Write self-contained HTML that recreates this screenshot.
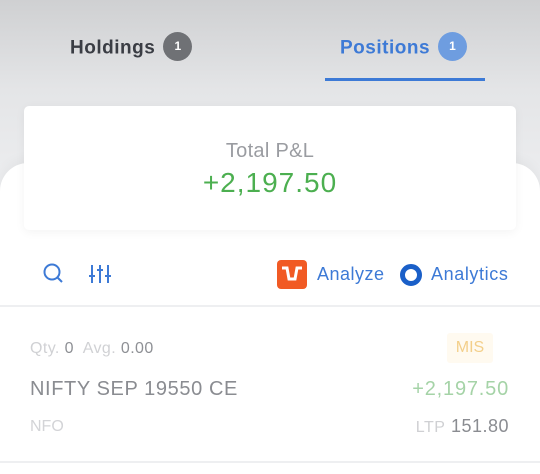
<!DOCTYPE html>
<html><head><meta charset="utf-8"><style>
*{margin:0;padding:0;box-sizing:border-box}
body{width:540px;height:474px;overflow:hidden;font-family:"Liberation Sans",sans-serif;background:linear-gradient(#cfd0d2 0px,#e4e5e7 90px,#ebecee 170px,#f0f0f2 474px);position:relative}
.abs{position:absolute}
.tab{font-size:19px;font-weight:bold;top:34px;letter-spacing:0.5px}
.badge{display:inline-block;width:29px;height:29px;border-radius:50%;color:#fff;font-size:12px;text-align:center;line-height:29px;font-weight:bold;vertical-align:middle;margin-left:8px;position:relative;top:-2px;letter-spacing:0}
</style></head><body>
<div class="abs tab" style="left:70px;color:#3a3d44">Holdings<span class="badge" style="background:#6f7175">1</span></div>
<div class="abs tab" style="left:340px;color:#3d7ad6">Positions<span class="badge" style="background:#6e9de0">1</span></div>
<div class="abs" style="left:325px;top:78px;width:160px;height:3px;background:#3d7ad6"></div>
<div class="abs" style="left:0;top:163px;width:540px;height:311px;background:#fff;border-radius:28px 28px 0 0;box-shadow:0 -4px 12px rgba(0,0,0,0.04)"></div>
<div class="abs" style="left:24px;top:106px;width:492px;height:124px;background:#fff;border-radius:5px;box-shadow:0 2px 10px rgba(0,0,0,0.05);text-align:center">
<div style="margin-top:34px;font-size:20px;color:#9a9ca1;letter-spacing:0.3px">Total P&amp;L</div>
<div style="margin-top:4px;font-size:28px;color:#4caf50;letter-spacing:1px">+2,197.50</div>
</div>
<svg class="abs" style="left:42px;top:262px" width="24" height="24"><circle cx="10" cy="10" r="7.5" fill="none" stroke="#3d7ad6" stroke-width="2"/><line x1="15.5" y1="15.5" x2="20" y2="20" stroke="#3d7ad6" stroke-width="2"/></svg>
<svg class="abs" style="left:88px;top:262px" width="28" height="24"><g stroke="#3d7ad6" stroke-width="2"><line x1="4" y1="3" x2="4" y2="21"/><line x1="12" y1="3" x2="12" y2="21"/><line x1="20" y1="3" x2="20" y2="21"/><line x1="1" y1="14" x2="7" y2="14"/><line x1="9" y1="8" x2="15" y2="8"/><line x1="17" y1="14" x2="23" y2="14"/></g></svg>
<svg class="abs" style="left:277px;top:260px" width="30" height="29"><rect width="30" height="29" rx="4" fill="#f15a24"/><path d="M5 8 L10 8 L12 19 L18 19 L20 8 L25 8" stroke="#fff" stroke-width="3" fill="none"/></svg>
<div class="abs" style="left:317px;top:264px;font-size:18px;color:#3d7ad6;letter-spacing:0.5px">Analyze</div>
<svg class="abs" style="left:399px;top:263px" width="24" height="24"><circle cx="12" cy="12" r="8.5" fill="none" stroke="#1a5fc8" stroke-width="5"/></svg>
<div class="abs" style="left:431px;top:264px;font-size:18px;color:#3d7ad6;letter-spacing:0.6px">Analytics</div>
<div class="abs" style="left:0;top:305px;width:540px;height:2px;background:#eeeff1"></div>
<div class="abs" style="left:30px;top:340px;font-size:16px;color:#d0d1d4;letter-spacing:0.4px">Qty. <span style="color:#8e9095">0</span>&nbsp; Avg. <span style="color:#8e9095">0.00</span></div>
<div class="abs" style="left:447px;top:333px;width:46px;height:30px;background:#fffaf0;color:#f3cf8a;font-size:16px;text-align:center;line-height:30px;border-radius:3px">MIS</div>
<div class="abs" style="left:30px;top:378px;font-size:20px;color:#8a8c91;letter-spacing:0.6px">NIFTY SEP 19550 CE</div>
<div class="abs" style="right:31px;top:378px;font-size:20px;color:#a5d3a7;letter-spacing:0.8px">+2,197.50</div>
<div class="abs" style="left:30px;top:418px;font-size:16px;color:#d3d4d7">NFO</div>
<div class="abs" style="right:31px;top:416px;font-size:18px;color:#8a8c91;letter-spacing:0.5px"><span style="color:#cfd0d3;font-size:16px">LTP</span> 151.80</div>
<div class="abs" style="left:0;top:461px;width:540px;height:2px;background:#eeeff1"></div>
</body></html>
